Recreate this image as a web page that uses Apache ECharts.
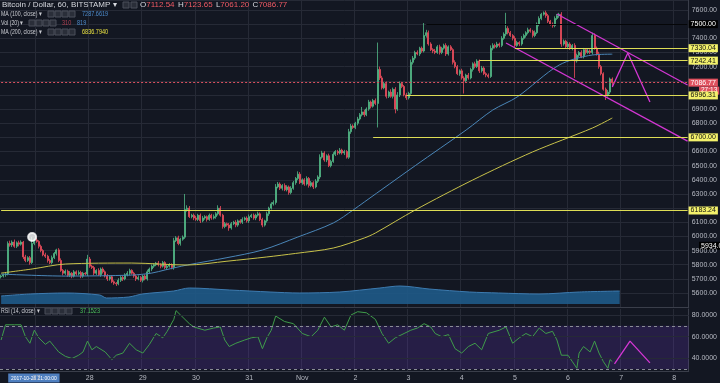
<!DOCTYPE html>
<html><head><meta charset="utf-8">
<script src="https://cdn.jsdelivr.net/npm/echarts@6/dist/echarts.min.js"></script>
<style>html,body{margin:0;padding:0;background:#131722;}#c{width:720px;height:383px;}</style>
</head><body><div id="c"></div>
<script>
// ---------- DATA ----------
const startTimeUTC = Date.UTC(2017, 9, 26, 8);   // first hourly candle
const hourCount = 311;                           // incl. empty future space
const categories = [];
for (let h = 0; h < hourCount; h++) {
  const d = new Date(startTimeUTC + h * 3600e3);
  const p = n => String(n).padStart(2, '0');
  categories.push(d.getUTCFullYear() + '-' + p(d.getUTCMonth() + 1) + '-' + p(d.getUTCDate()) + ' ' + p(d.getUTCHours()) + ':00');
}
const dayLabels = {'10-27':'27','10-28':'28','10-29':'29','10-30':'30','10-31':'31','11-01':'Nov','11-02':'2','11-03':'3','11-04':'4','11-05':'5','11-06':'6','11-07':'7','11-08':'8'};
const priceTicks = {min: 5500, max: 7670.7, interval: 100};
const rsiTicks = [40, 60, 80];

const firstOpen = 5715;
const closes = [
5720,5730,5735,5950,5940,5960,5930,5955,5945,5960,
5855,5830,5850,5815,5950,5975,5965,5930,5900,5870,
5860,5830,5815,5850,5880,5905,5830,5760,5740,5755,
5725,5740,5720,5750,5735,5745,5720,5740,5735,5840,
5790,5780,5740,5760,5730,5770,5750,5720,5700,5715,
5680,5670,5665,5690,5710,5700,5730,5740,5760,5740,
5720,5700,5710,5690,5720,5700,5750,5770,5790,5800,
5812,5800,5790,5815,5780,5790,5800,5780,5970,5990,
5950,5980,5995,6190,6200,6140,6150,6130,6120,6150,
6110,6130,6140,6120,6150,6130,6140,6160,6200,6150,
6070,6090,6080,6060,6090,6100,6080,6110,6100,6120,
6130,6110,6140,6150,6130,6150,6160,6120,6080,6110,
6160,6200,6230,6240,6350,6370,6340,6360,6330,6350,
6310,6340,6380,6410,6440,6380,6400,6370,6410,6360,
6380,6350,6390,6420,6560,6590,6540,6570,6500,6530,
6580,6600,6590,6610,6590,6600,6560,6740,6780,6770,
6800,6830,6860,6880,6860,6900,6950,6920,6960,6940,
7180,7120,7050,7080,6990,7020,6990,7040,6900,7000,
7080,7060,7000,6980,7010,7230,7260,7300,7290,7330,
7310,7420,7440,7360,7320,7310,7300,7340,7300,7330,
7350,7290,7340,7320,7230,7200,7150,7170,7120,7100,
7140,7120,7180,7220,7200,7240,7170,7190,7150,7140,
7130,7330,7350,7340,7360,7350,7400,7430,7470,7440,
7420,7400,7350,7370,7360,7400,7420,7440,7460,7450,
7420,7440,7500,7540,7570,7580,7560,7520,7500,7490,
7540,7560,7570,7360,7380,7340,7360,7330,7350,7240,
7280,7300,7270,7320,7300,7310,7300,7420,7330,7290,
7200,7150,7040,7000,7020,7112.54,7086.77];
const wickUp = [
10,8,12,15,20,12,18,10,15,12, 8,15,10,12,46,10,15,8,12,10,
15,10,12,15,10,8,12,15,10,12, 10,15,8,12,10,15,12,10,8,30,
15,10,12,8,15,10,12,10,15,8, 12,10,8,15,10,12,10,15,12,8,
10,12,15,10,8,12,15,10,12,10, 8,15,10,12,10,15,12,10,20,12,
15,10,12,110,20,15,10,12,15,10, 12,15,10,8,12,10,15,12,20,15,
10,12,8,15,12,10,15,10,12,15, 10,12,15,10,12,10,15,10,12,8,
15,10,12,15,20,15,12,10,15,12, 10,15,12,10,20,15,10,12,15,10,
12,10,15,12,20,15,12,10,15,12, 15,10,12,15,10,12,10,20,15,12,
10,15,12,35,15,12,15,10,12,15, 190,20,15,12,15,10,20,12,15,20,
15,12,10,15,12,20,15,12,15,10, 12,88,20,15,12,10,15,12,15,10,
12,15,10,12,10,15,12,10,15,12, 10,15,12,10,15,12,10,15,12,10,
12,20,15,12,15,10,15,12,110,15, 12,10,15,12,10,15,12,10,15,12,
10,15,12,15,10,10,15,12,10,12, 15,12,10,15,12,10,15,12,10,15,
12,10,15,12,10,15,12,20,15,12, 15,12,10,12,15,10,11];
const wickDown = [
12,10,15,10,12,15,10,12,15,10, 15,12,10,15,10,12,10,15,12,10,
12,15,10,12,10,15,12,10,15,12, 10,12,15,10,12,10,15,12,10,15,
12,10,15,12,10,15,12,10,15,12, 10,12,15,10,12,15,10,12,15,10,
12,15,10,12,15,10,12,10,15,12, 10,12,15,10,12,15,10,12,15,10,
12,15,10,12,15,10,12,15,10,12, 15,10,12,15,10,12,10,15,12,10,
15,12,10,20,12,10,15,12,10,12, 10,12,15,10,12,15,10,12,15,10,
12,15,10,12,15,10,12,15,10,12, 15,12,10,15,12,10,15,12,10,15,
12,15,10,12,15,10,12,15,10,12, 10,12,15,10,12,15,10,12,15,10,
12,15,10,12,15,10,12,15,10,12, 170,15,12,10,15,12,10,15,30,12,
15,12,10,15,12,10,15,12,10,15, 12,10,15,12,10,15,12,10,15,12,
10,15,12,10,15,12,10,15,12,90, 15,12,10,15,12,10,15,12,10,15,
12,10,15,12,10,15,12,10,15,12, 10,15,12,10,15,12,10,15,12,10,
15,12,10,15,12,10,15,12,10,15, 12,10,15,20,12,15,10,12,15,120,
12,15,10,12,15,10,12,15,10,12, 15,12,10,36,12,15,26];

const ma100 = [[0,5734],[29,5720],[59,5727],[68,5741],[74,5763],[84,5798],[102,5850],[118,5904],[134,5996],[150,6095],[159,6187],[164,6243],[187,6500],[210,6752],[222,6893],[233,6985],[252,7211],[267,7282],[276,7288]];
const ma200 = [[0,5741],[14,5770],[29,5805],[59,5812],[84,5798],[102,5825],[120,5855],[133,5880],[150,5918],[164,5989],[169,6024],[187,6187],[213,6399],[240,6597],[267,6766],[276,6837]];
const volMa = [[0,504],[13,630],[29,693],[44,567],[47,378],[57,441],[63,630],[77,819],[84,1008],[102,882],[120,756],[133,693],[151,756],[169,1008],[178,1134],[191,945],[209,756],[222,693],[240,630],[258,756],[276,819]];
const rsi = [[0,57],[2,71],[6,71],[9,71],[11,60],[13,54],[15,66],[17,59],[20,53],[22,56],[24,51],[26,46],[29,42],[32,40],[35,43],[37,46],[39,56],[41,48],[43,51],[47,46],[50,39],[52,43],[55,45],[58,54],[61,48],[64,45],[67,53],[70,63],[73,59],[75,65],[78,76],[79,84],[81,80],[85,72],[87,69],[92,66],[96,68],[99,69],[101,57],[103,51],[106,54],[110,57],[113,59],[116,60],[118,49],[120,59],[122,66],[124,79],[128,74],[132,72],[136,63],[140,60],[143,66],[146,78],[149,69],[152,71],[155,66],[158,80],[161,83],[165,82],[169,76],[172,63],[175,54],[178,59],[182,63],[185,66],[188,68],[191,72],[194,69],[196,63],[199,60],[202,62],[205,49],[208,45],[211,51],[214,54],[217,48],[220,63],[225,66],[228,69],[231,54],[234,59],[237,63],[240,60],[243,68],[246,63],[249,65],[251,57],[253,43],[256,43],[258,37],[260,31],[261,45],[263,51],[266,46],[268,56],[270,45],[272,37],[274,31],[275,39],[276,37.15]];

const channelUpper = [[251,7572],[310,7070]];
const channelLower = [[228,7367],[310,6674]];
const projPrice = [[276,7056],[283,7296],[293,6950]];
const projRsi = [[277,35],[284,56],[293,36]];
const levels = [ {price:7330.04, from:232}, {price:7242.41, from:216}, {price:6996.31, from:183}, {price:6700.00, from:168}, {price:6183.24, from:0} ];
const blackLevel = {price:7500.00, from:192};
const lastPrice = 7086.77;
const circleMark = [14, 5996];
const crossPrice = 5934.06;

// ---------- BUILD ----------
const candles = closes.map((c, i) => {
  const o = i === 0 ? firstOpen : closes[i - 1];
  return [o, c, Math.min(o, c) - wickDown[i], Math.max(o, c) + wickUp[i]];
});
const lastIdx = hourCount - 1;
const isDay = (idx) => categories[idx] && categories[idx].endsWith(' 00:00');
const GRIDC = '#262a36';
const TXT = '#b7bac3';
const FONT = 'Liberation Sans';
const YEL = '#dedd55', YELBG = '#f3f16b', MAG = '#d236d2';

const levelLines = levels.map(l => [
  {coord:[l.from, l.price], lineStyle:{color:YEL, width:1, type:'solid'},
   label:{show:true, position:'end', distance:1, formatter:l.price.toFixed(2), backgroundColor:YELBG, color:'#111', fontSize:7, fontFamily:FONT, padding:[1,2,0,2]}},
  {coord:[lastIdx, l.price]}
]);
levelLines.push([
  {coord:[blackLevel.from, blackLevel.price], lineStyle:{color:'#050608', width:1, type:'solid'},
   label:{show:true, position:'end', distance:1, formatter:blackLevel.price.toFixed(2), backgroundColor:'#000', color:'#fff', fontSize:7, fontFamily:FONT, padding:[1,2,0,2]}},
  {coord:[lastIdx, blackLevel.price]}
]);
levelLines.push([
  {coord:[0, lastPrice], lineStyle:{color:'#d9505f', width:1, type:[2,2]},
   label:{show:true, position:'end', distance:1, formatter:lastPrice.toFixed(2), backgroundColor:'#e0515f', color:'#fff', fontSize:7, fontFamily:FONT, padding:[1,2,0,2]}},
  {coord:[lastIdx, lastPrice]}
]);

const hidden = new Set([7500, 7100, 7000, 6700, 6200]);

const chart = echarts.init(document.getElementById('c'));
const option = {
  backgroundColor: '#131722',
  animation: false,
  textStyle: {fontFamily: FONT},
  grid: [
    {left:0, right:23, top:0, height:307.2},
    {left:0, right:23, top:254, height:50},
    {left:0, right:23, top:309, height:62}
  ],
  xAxis: [
    {type:'category', gridIndex:0, data:categories, boundaryGap:true,
     axisLine:{show:true, lineStyle:{color:'#3a3e4a'}}, axisTick:{show:false}, axisLabel:{show:false},
     splitLine:{show:true, interval:(i)=>isDay(i), lineStyle:{color:GRIDC}}},
    {type:'category', gridIndex:1, data:categories, boundaryGap:true, show:false},
    {type:'category', gridIndex:2, data:categories, boundaryGap:true,
     axisLine:{show:true, lineStyle:{color:'#3a3e4a'}}, axisTick:{show:false},
     axisLabel:{show:true, interval:(i)=>isDay(i), formatter:(v)=>dayLabels[v.slice(5,10)]||'', color:TXT, fontSize:7, margin:4},
     splitLine:{show:true, interval:(i)=>isDay(i), lineStyle:{color:GRIDC}}}
  ],
  yAxis: [
    {type:'value', gridIndex:0, position:'right', min:priceTicks.min, max:priceTicks.max, interval:priceTicks.interval,
     axisLine:{show:true, lineStyle:{color:'#3a3e4a'}}, axisTick:{show:false},
     axisLabel:{show:true, color:TXT, fontSize:7, margin:3, showMaxLabel:false, showMinLabel:false,
       formatter:(v)=> hidden.has(Math.round(v)) ? '' : v.toFixed(2)},
     splitLine:{show:true, lineStyle:{color:GRIDC}}},
    {type:'value', gridIndex:1, min:0, max:3150, show:false},
    {type:'value', gridIndex:2, position:'right', min:28.5, max:85.5,
     axisLine:{show:true, lineStyle:{color:'#3a3e4a'}}, axisTick:{show:false},
     axisLabel:{show:true, customValues:rsiTicks, color:TXT, fontSize:7, margin:3, formatter:(v)=>v.toFixed(4)},
     splitLine:{show:false}}
  ],
  series: [
    {type:'candlestick', xAxisIndex:0, yAxisIndex:0, data:candles, barWidth:1.5,
     itemStyle:{color:'#53b987', color0:'#eb4d5c', borderColor:'#53b987', borderColor0:'#eb4d5c', borderWidth:0.8},
     markLine:{symbol:'none', silent:true, animation:false, data:levelLines}},
    {type:'line', xAxisIndex:0, yAxisIndex:0, data:ma100, symbol:'none', smooth:0.3, lineStyle:{color:'#4a86b8', width:1}, z:3},
    {type:'line', xAxisIndex:0, yAxisIndex:0, data:ma200, symbol:'none', smooth:0.3, lineStyle:{color:'#c8c24a', width:1}, z:3},
    {type:'line', xAxisIndex:0, yAxisIndex:0, data:channelUpper, symbol:'none', lineStyle:{color:MAG, width:1.3}, z:4},
    {type:'line', xAxisIndex:0, yAxisIndex:0, data:channelLower, symbol:'none', lineStyle:{color:MAG, width:1.3}, z:4},
    {type:'line', xAxisIndex:0, yAxisIndex:0, data:projPrice, symbol:'none', lineStyle:{color:MAG, width:1.3}, z:4},
    {type:'scatter', xAxisIndex:0, yAxisIndex:0, data:[circleMark], symbol:'emptyCircle', symbolSize:8,
     itemStyle:{color:'#ffffff', borderColor:'#ffffff', borderWidth:1.3}, z:5},
    {type:'line', xAxisIndex:1, yAxisIndex:1, data:volMa, symbol:'none', smooth:0.3,
     lineStyle:{color:'#3d7bb0', width:1}, areaStyle:{color:'#1f5a88', opacity:0.9}, z:1},
    {type:'line', xAxisIndex:2, yAxisIndex:2, data:rsi, symbol:'none', lineStyle:{color:'#3f9c4a', width:1}, z:4,
     markArea:{silent:true, itemStyle:{color:'rgba(110,60,200,0.22)'}, data:[[{yAxis:30},{yAxis:70}]]},
     markLine:{symbol:'none', silent:true, label:{show:false}, data:[
       {yAxis:80, lineStyle:{color:GRIDC, type:'solid', width:1}},
       {yAxis:60, lineStyle:{color:GRIDC, type:'solid', width:1}},
       {yAxis:40, lineStyle:{color:GRIDC, type:'solid', width:1}},
       {yAxis:70, lineStyle:{color:'#8a8d96', type:[3,3], width:1}},
       {yAxis:30, lineStyle:{color:'#8a8d96', type:[3,3], width:1}}]}},
    {type:'line', xAxisIndex:2, yAxisIndex:2, data:projRsi, symbol:'none', lineStyle:{color:MAG, width:1.3}, z:5}
  ]
};
chart.setOption(option);

// ---------- header & overlay labels ----------
const box = (x, y) => ({type:'rect', shape:{x:x, y:y, width:6, height:6}, style:{fill:'#2a2e39', stroke:'#4a4e5a', lineWidth:1}});
const txt = (x, y, text, fill, size, sx) => ({type:'text', x:x, y:y, scaleX:sx||1, style:{text:text, fill:fill, fontSize:size||6.5, fontFamily:FONT, verticalAlign:'middle'}});
const yLast = chart.convertToPixel({yAxisIndex:0}, lastPrice);
const yCross = chart.convertToPixel({yAxisIndex:0}, crossPrice);
const xCross = chart.convertToPixel({xAxisIndex:2}, '2017-10-26 21:00');
const g = [
  txt(2, 5, 'Bitcoin / Dollar, 60, BITSTAMP ▾', '#d6d8de', 8),
  box(123, 2), box(131, 2),
  {type:'text', x:140, y:5, style:{rich:{k:{fill:'#d6d8de', fontSize:8, fontFamily:FONT}, v:{fill:'#ef5a64', fontSize:8, fontFamily:FONT}},
    text:'{k|O}{v|7112.54} {k|H}{v|7123.65} {k|L}{v|7061.20} {k|C}{v|7086.77}', verticalAlign:'middle'}},
  txt(1, 14, 'MA (100, close) ▾', '#c8cad0', 6.5, 0.8), box(48,11), box(55,11), box(62,11), box(69,11), txt(82, 14, '7287.6619', '#4d8ccc', 6.5, 0.85),
  txt(1, 23, 'Vol (20) ▾', '#c8cad0', 6.5, 0.8), box(29,20), box(36,20), box(43,20), box(50,20), txt(62, 23, '310', '#b04050', 6.5, 0.85), txt(77, 23, '819', '#4d8ccc', 6.5, 0.85),
  txt(1, 32, 'MA (200, close) ▾', '#c8cad0', 6.5, 0.8), box(48,29), box(55,29), box(62,29), box(69,29), txt(82, 32, '6836.7940', '#e8e040', 6.5, 0.85),
  txt(1, 311, 'RSI (14, close) ▾', '#c8cad0', 6.5, 0.8), box(45,308), box(52,308), box(59,308), box(66,308), txt(80, 311, '37.1523', '#4cc05a', 6.5, 0.85),
  {type:'text', x:699, y:yLast + 8, style:{text:'27:13', fill:'#fff', fontSize:6.5, fontFamily:FONT, backgroundColor:'#e0515f', padding:[1,2,0,2], verticalAlign:'middle'}},
  {type:'text', x:699, y:yCross, style:{text:crossPrice.toFixed(2), fill:'#fff', fontSize:7, fontFamily:FONT, backgroundColor:'#000', padding:[1,2,0,2], verticalAlign:'middle'}},
  {type:'text', x:xCross + 4, y:378, scaleX:0.9, style:{text:'2017-10-26 21:00:00', fill:'#fff', fontSize:5.5, fontFamily:FONT, backgroundColor:'#4f7fbf', padding:[2,3,1,3], align:'center', verticalAlign:'middle'}}
];
chart.setOption({graphic: g});
</script></body></html>
